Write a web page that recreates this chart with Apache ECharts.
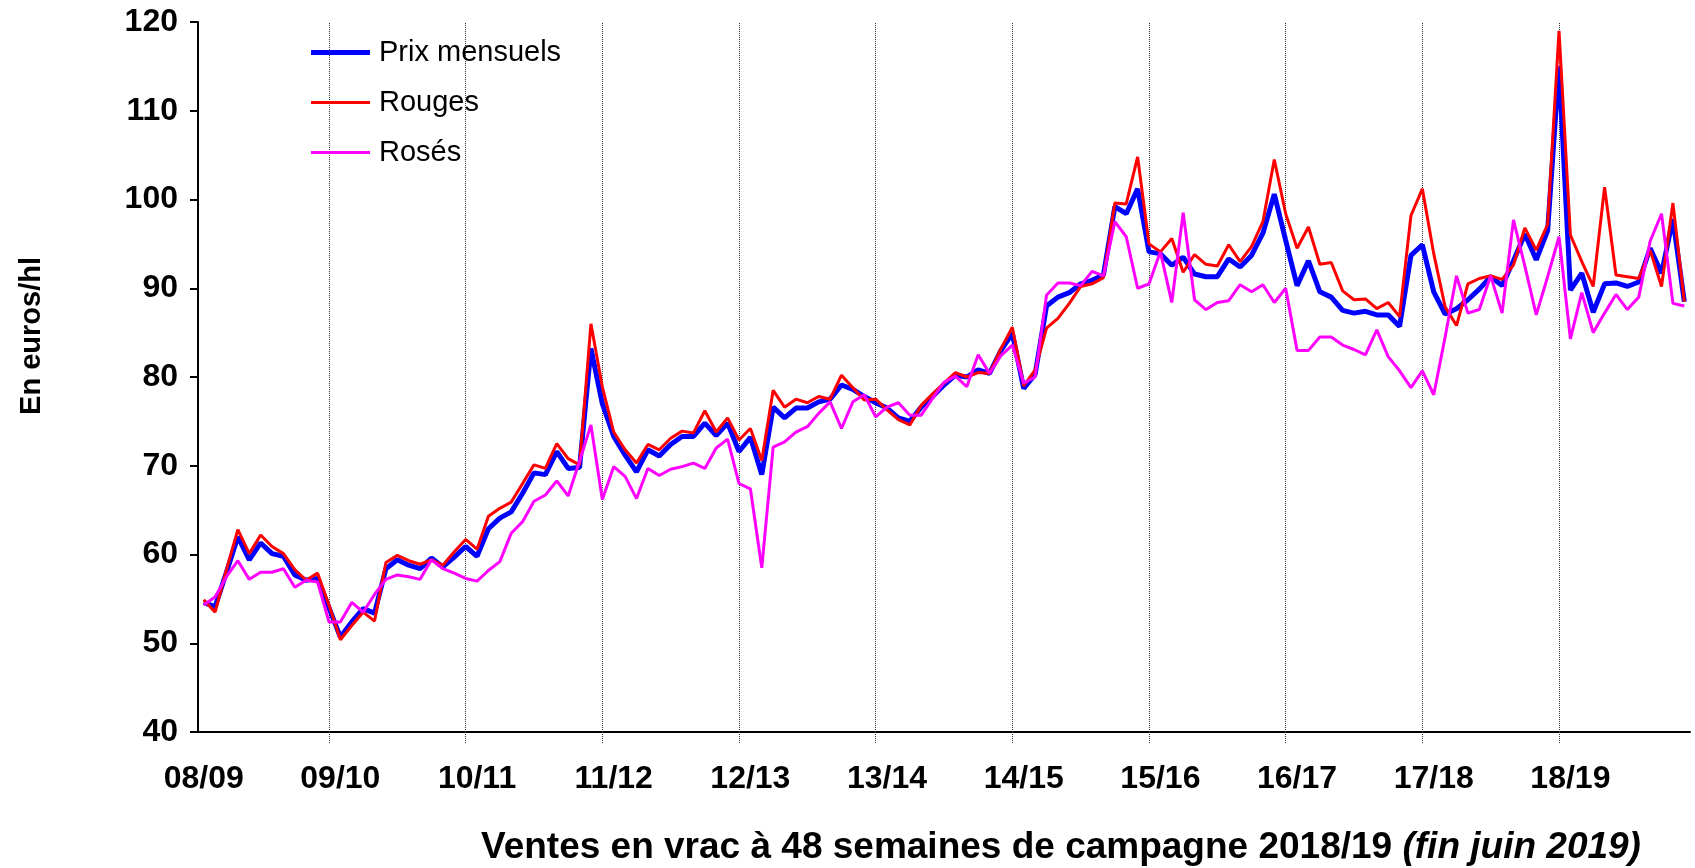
<!DOCTYPE html>
<html>
<head>
<meta charset="utf-8">
<script src="https://cdn.jsdelivr.net/npm/echarts@6/dist/echarts.min.js"></script>
<style>
  html, body { margin: 0; padding: 0; background: #fff; }
  #chart { width: 1695px; height: 868px; }
</style>
</head>
<body>
<div id="chart"></div>
<script>
// campagnes (aout -> juillet), libelle au mois d'aout
const campaigns = ["08/09", "09/10", "10/11", "11/12", "12/13", "13/14", "14/15", "15/16", "16/17", "17/18", "18/19"];

// mois d'aout 2008 a juin 2019
const months = [];
for (let i = 0; i < 131; i++) {
  const m = (7 + i) % 12 + 1;
  const y = 2008 + Math.floor((7 + i) / 12);
  months.push(y + "-" + (m < 10 ? "0" + m : m));
}

const prixMensuels = [
  54.6, 54.1, 58.0, 62.0, 59.4, 61.3, 60.1, 59.8, 57.7, 57.1, 57.3, 54.0,
  50.7, 52.4, 53.9, 53.4, 58.4, 59.4, 58.8, 58.4, 59.6, 58.6, 59.7, 60.9,
  59.8, 62.9, 64.1, 64.8, 66.9, 69.2, 69.0, 71.6, 69.7, 69.8, 83.2, 77.0,
  73.3, 71.2, 69.3, 71.8, 71.1, 72.4, 73.3, 73.3, 74.8, 73.4, 74.8, 71.6,
  73.2, 69.0, 76.6, 75.4, 76.5, 76.5, 77.2, 77.5, 79.1, 78.6, 77.8, 77.1,
  76.5, 75.4, 75.0, 76.6, 77.8, 79.1, 80.2, 80.0, 80.8, 80.4, 83.0, 84.9,
  78.7, 80.3, 88.0, 89.0, 89.5, 90.5, 90.9, 91.5, 99.2, 98.4, 101.2, 94.1,
  93.9, 92.6, 93.5, 91.6, 91.3, 91.3, 93.3, 92.4, 93.7, 96.2, 100.6, 95.4,
  90.3, 93.1, 89.6, 89.0, 87.5, 87.2, 87.4, 87.0, 87.0, 85.7, 93.7, 94.9,
  89.6, 87.1, 87.7, 88.7, 89.9, 91.3, 90.3, 93.1, 96.1, 93.2, 96.5, 115.0,
  89.8, 91.7, 87.3, 90.5, 90.6, 90.2, 90.7, 94.5, 91.7, 97.8, 88.5
];

const rouges = [
  54.9, 53.5, 58.3, 62.8, 60.1, 62.2, 60.9, 60.1, 58.3, 57.1, 57.9, 54.3,
  50.4, 52.0, 53.5, 52.5, 59.1, 59.9, 59.3, 58.9, 59.4, 58.8, 60.3, 61.7,
  60.6, 64.3, 65.2, 65.9, 68.0, 70.1, 69.7, 72.5, 70.8, 70.1, 86.0, 78.9,
  73.8, 71.8, 70.3, 72.4, 71.8, 73.1, 73.9, 73.7, 76.2, 73.8, 75.4, 72.9,
  74.2, 70.6, 78.5, 76.6, 77.5, 77.1, 77.8, 77.5, 80.2, 78.8, 77.4, 77.5,
  76.3, 75.2, 74.6, 76.8, 78.1, 79.3, 80.5, 80.0, 80.5, 80.4, 83.2, 85.6,
  79.0, 80.8, 85.5, 86.6, 88.3, 90.2, 90.5, 91.2, 99.6, 99.5, 104.8, 95.0,
  94.1, 95.6, 91.8, 93.8, 92.7, 92.5, 94.9, 93.0, 94.7, 97.5, 104.5, 98.4,
  94.5, 96.9, 92.7, 92.9, 89.7, 88.7, 88.8, 87.7, 88.4, 86.8, 98.2, 101.2,
  93.9, 87.9, 85.8, 90.5, 91.1, 91.4, 91.0, 92.6, 96.8, 94.3, 97.2, 119.0,
  96.0, 93.0, 90.2, 101.4, 91.5, 91.3, 91.1, 94.3, 90.2, 99.6, 88.5
];

const roses = [
  54.3, 55.2, 57.5, 59.3, 57.2, 58.0, 58.0, 58.4, 56.3, 57.1, 56.9, 52.4,
  52.4, 54.6, 53.5, 55.5, 57.2, 57.7, 57.5, 57.2, 59.4, 58.4, 57.9, 57.3,
  57.0, 58.2, 59.2, 62.4, 63.7, 66.0, 66.7, 68.3, 66.6, 70.5, 74.6, 66.2,
  69.9, 68.8, 66.3, 69.7, 68.9, 69.6, 69.9, 70.3, 69.7, 72.0, 73.0, 68.0,
  67.4, 58.5, 72.1, 72.7, 73.8, 74.4, 75.9, 77.2, 74.2, 77.2, 78.0, 75.5,
  76.6, 77.1, 75.7, 75.7, 77.6, 79.4, 80.1, 78.9, 82.5, 80.4, 82.4, 83.6,
  79.3, 80.0, 89.2, 90.6, 90.6, 90.3, 91.9, 91.4, 97.5, 95.8, 90.0, 90.5,
  94.1, 88.4, 98.5, 88.7, 87.6, 88.4, 88.6, 90.4, 89.6, 90.4, 88.4, 90.0,
  83.0, 83.0, 84.5, 84.5, 83.6, 83.1, 82.5, 85.3, 82.3, 80.7, 78.8, 80.7,
  78.0, 84.5, 91.4, 87.2, 87.6, 91.4, 87.2, 97.7, 92.5, 87.0, 91.3, 95.8,
  84.3, 89.5, 85.0, 87.2, 89.3, 87.6, 89.0, 95.3, 98.4, 88.3, 88.0
];

const yTicks = { min: 40, max: 120, interval: 10 };

// separation des campagnes : dernier mois (juillet) de chaque campagne
const separators = months.filter((m, i) => i % 12 === 11);

const font = '"Liberation Sans", Arial, sans-serif';

const chart = echarts.init(document.getElementById("chart"));
chart.setOption({
  animation: false,
  backgroundColor: "#fff",
  textStyle: { fontFamily: font },
  title: {
    left: 481,
    top: 829,
    padding: 0,
    text: "{b|Ventes en vrac à 48 semaines de campagne 2018/19 }{i|(fin juin 2019)}",
    textStyle: {
      rich: {
        b: { fontFamily: font, fontWeight: "bold", fontSize: 37, color: "#000" },
        i: { fontFamily: font, fontWeight: "bold", fontStyle: "italic", fontSize: 37, color: "#000" }
      }
    }
  },
  graphic: [{
    type: "text",
    left: 17,
    top: 257,
    rotation: Math.PI / 2,
    style: {
      text: "En euros/hl",
      font: "bold 29px " + font,
      fill: "#000"
    }
  }],
  legend: {
    orient: "vertical",
    left: 311,
    top: 38,
    padding: 0,
    itemWidth: 59,
    itemHeight: 14,
    itemGap: 21,
    symbolKeepAspect: true,
    textStyle: { fontSize: 29, color: "#000", fontFamily: font, padding: [0, 0, 0, 4] },
    data: [
      { name: "Prix mensuels", icon: "path://M0,0H59V5H0Z" },
      { name: "Rouges", icon: "path://M0,0H59V3H0Z" },
      { name: "Rosés", icon: "path://M0,0H59V3H0Z" }
    ]
  },
  grid: { left: 198, right: 5, top: 22, bottom: 136 },
  xAxis: {
    type: "category",
    data: months,
    boundaryGap: true,
    axisLine: { lineStyle: { color: "#000", width: 2 } },
    axisTick: {
      show: true,
      alignWithLabel: true,
      length: 12,
      interval: (idx) => idx % 12 === 11,
      lineStyle: { color: "#333", width: 1, type: "dotted" }
    },
    axisLabel: {
      interval: (idx) => idx % 12 === 0,
      formatter: (val, idx) => (idx % 12 === 0 ? campaigns[idx / 12] : ""),
      margin: 31,
      fontSize: 32,
      fontWeight: "bold",
      color: "#000",
      fontFamily: font
    },
    splitLine: { show: false }
  },
  yAxis: {
    type: "value",
    min: yTicks.min,
    max: yTicks.max,
    interval: yTicks.interval,
    axisLine: { show: true, lineStyle: { color: "#000", width: 2 } },
    axisTick: { show: true, length: 8, lineStyle: { color: "#000", width: 2 } },
    axisLabel: { fontSize: 32, fontWeight: "bold", color: "#000", margin: 20, fontFamily: font },
    splitLine: { show: false }
  },
  series: [
    {
      name: "Prix mensuels",
      type: "line",
      data: prixMensuels,
      symbol: "none",
      color: "#0000ff",
      lineStyle: { color: "#0000ff", width: 5 },
      markLine: {
        silent: true,
        symbol: "none",
        z: 1,
        label: { show: false },
        lineStyle: { color: "#333", width: 1, type: "dotted" },
        data: separators.map((m) => ({ xAxis: m }))
      }
    },
    {
      name: "Rouges",
      type: "line",
      data: rouges,
      symbol: "none",
      color: "#ff0000",
      lineStyle: { color: "#ff0000", width: 3 }
    },
    {
      name: "Rosés",
      type: "line",
      data: roses,
      symbol: "none",
      color: "#ff00ff",
      lineStyle: { color: "#ff00ff", width: 3 }
    }
  ]
});
</script>
</body>
</html>
